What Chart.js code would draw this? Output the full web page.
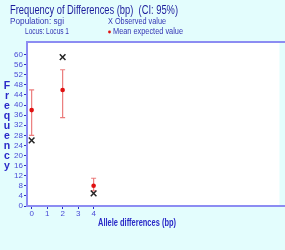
<!DOCTYPE html>
<html>
<head>
<meta charset="utf-8">
<script src="https://cdn.jsdelivr.net/npm/chart.js@4/dist/chart.umd.min.js"></script>
<style>
html,body{margin:0;padding:0;background:#e3fdfd;}
#wrap{width:285px;height:250px;position:relative;}
</style>
</head>
<body>
<div id="wrap"><canvas id="c" width="285" height="250"></canvas></div>
<script>
// ---- data ----
const alleleDiffs = [0, 2, 4];
const observed = [26, 59, 5];
const meanExpected = [38, 46, 8];
const ciLow = [28, 35, 6];
const ciHigh = [46, 54, 11];
const xTickLabels = [0, 1, 2, 3, 4];
const yTickLabels = [0, 4, 8, 12, 16, 20, 24, 28, 32, 36, 40, 44, 48, 52, 56, 60];
const titleText = 'Frequency of Differences (bp)  (CI: 95%)';
const populationText = 'Population: sgi';
const locusText = 'Locus: Locus 1';
const legendObserved = 'X Observed value';
const legendMean = 'Mean expected value';
const yTitle = 'Frequency';
const xTitle = 'Allele differences (bp)';

const FONT = '"Liberation Sans Narrow", "Liberation Sans", Arial, sans-serif';
const BLUE = '#2a2ac8';
const BORDER = '#8c8cf2';

const observedPts = alleleDiffs.map((x, i) => ({x: x, y: observed[i]}));
const meanPts = alleleDiffs.map((x, i) => ({x: x, y: meanExpected[i]}));

function fitText(ctx, text, x, y, width) {
  const w = ctx.measureText(text).width;
  const s = Math.min(1, width / w);
  ctx.save();
  ctx.translate(x, y);
  ctx.scale(s, 1);
  ctx.fillText(text, 0, 0);
  ctx.restore();
}

const decor = {
  id: 'decor',
  beforeDraw(chart) {
    const ctx = chart.ctx, a = chart.chartArea;
    ctx.save();
    ctx.fillStyle = '#e3fdfd';
    ctx.fillRect(0, 0, chart.width, chart.height);
    ctx.fillStyle = '#ffffff';
    ctx.fillRect(a.left, a.top, a.right - a.left, a.bottom - a.top);
    ctx.restore();
  },
  beforeDatasetsDraw(chart) {
    const ctx = chart.ctx;
    const xs = chart.scales.x, ys = chart.scales.y;
    ctx.save();
    ctx.strokeStyle = 'rgba(228,80,80,0.75)';
    ctx.lineWidth = 1.2;
    alleleDiffs.forEach((v, i) => {
      const px = xs.getPixelForValue(v);
      const pl = ys.getPixelForValue(ciLow[i]);
      const ph = ys.getPixelForValue(ciHigh[i]);
      ctx.beginPath();
      ctx.moveTo(px, pl); ctx.lineTo(px, ph);
      ctx.moveTo(px - 2.5, pl); ctx.lineTo(px + 2.5, pl);
      ctx.moveTo(px - 2.5, ph); ctx.lineTo(px + 2.5, ph);
      ctx.stroke();
    });
    ctx.restore();
  },
  afterDraw(chart) {
    const ctx = chart.ctx, a = chart.chartArea;
    ctx.save();
    // plot borders
    ctx.strokeStyle = BORDER;
    ctx.lineWidth = 2;
    ctx.beginPath();
    ctx.moveTo(chart.width + 2, a.top); ctx.lineTo(a.left, a.top);
    ctx.lineTo(a.left, a.bottom); ctx.lineTo(chart.width + 2, a.bottom);
    ctx.stroke();
    // header texts
    ctx.textBaseline = 'middle';
    ctx.textAlign = 'left';
    ctx.fillStyle = '#1c1c9c';
    ctx.font = '12px ' + FONT;
    fitText(ctx, titleText, 10, 11, 168);
    ctx.fillStyle = '#3434b4';
    ctx.font = '8.5px ' + FONT;
    fitText(ctx, populationText, 10, 22, 54);
    fitText(ctx, locusText, 25, 32, 44);
    fitText(ctx, legendObserved, 108, 22, 58);
    fitText(ctx, legendMean, 113, 32, 70);
    ctx.fillStyle = '#e01010';
    ctx.beginPath(); ctx.arc(109.5, 32, 1.4, 0, Math.PI * 2); ctx.fill();
    // axis titles
    ctx.fillStyle = BLUE;
    ctx.font = 'bold 10.5px ' + FONT;
    ctx.textAlign = 'center';
    const letters = yTitle.split('');
    letters.forEach((ch, i) => ctx.fillText(ch, 7, 86 + i * 10));
    ctx.textAlign = 'left';
    fitText(ctx, xTitle, 98, 223, 78);
    ctx.restore();
  }
};

new Chart(document.getElementById('c'), {
  type: 'scatter',
  data: {
    datasets: [
      {
        label: 'Mean expected value',
        data: meanPts,
        pointStyle: 'circle',
        pointRadius: 2.3,
        backgroundColor: '#e01010',
        borderColor: '#e01010',
        borderWidth: 0,
        order: 2
      },
      {
        label: 'Observed value',
        data: observedPts,
        pointStyle: 'crossRot',
        pointRadius: 4,
        borderColor: '#262626',
        borderWidth: 1.5,
        order: 1
      }
    ]
  },
  options: {
    responsive: false,
    animation: false,
    events: [],
    layout: {padding: {top: 42, left: 0, right: 0, bottom: 0}},
    plugins: {legend: {display: false}, tooltip: {enabled: false}, title: {display: false}},
    scales: {
      x: {
        type: 'linear',
        min: -0.3,
        max: 16,
        afterBuildTicks(s) { s.ticks = xTickLabels.map(v => ({value: v})); },
        afterFit(s) { s.height = 44; },
        grid: {drawOnChartArea: false, drawTicks: true, tickLength: 3, color: BLUE, lineWidth: 1},
        border: {display: false},
        ticks: {color: '#4a4ad6', font: {size: 8, family: FONT}, padding: 0, maxRotation: 0, autoSkip: false,
          callback: v => String(v)}
      },
      y: {
        type: 'linear',
        min: 0,
        max: 65,
        afterBuildTicks(s) { s.ticks = yTickLabels.map(v => ({value: v})); },
        afterFit(s) { s.width = 27; },
        grid: {drawOnChartArea: false, drawTicks: true, tickLength: 3, color: BLUE, lineWidth: 1},
        border: {display: false},
        ticks: {color: '#4a4ad6', font: {size: 8, family: FONT}, padding: 1, autoSkip: false,
          callback: v => String(v)}
      }
    }
  },
  plugins: [decor]
});
</script>
</body>
</html>
